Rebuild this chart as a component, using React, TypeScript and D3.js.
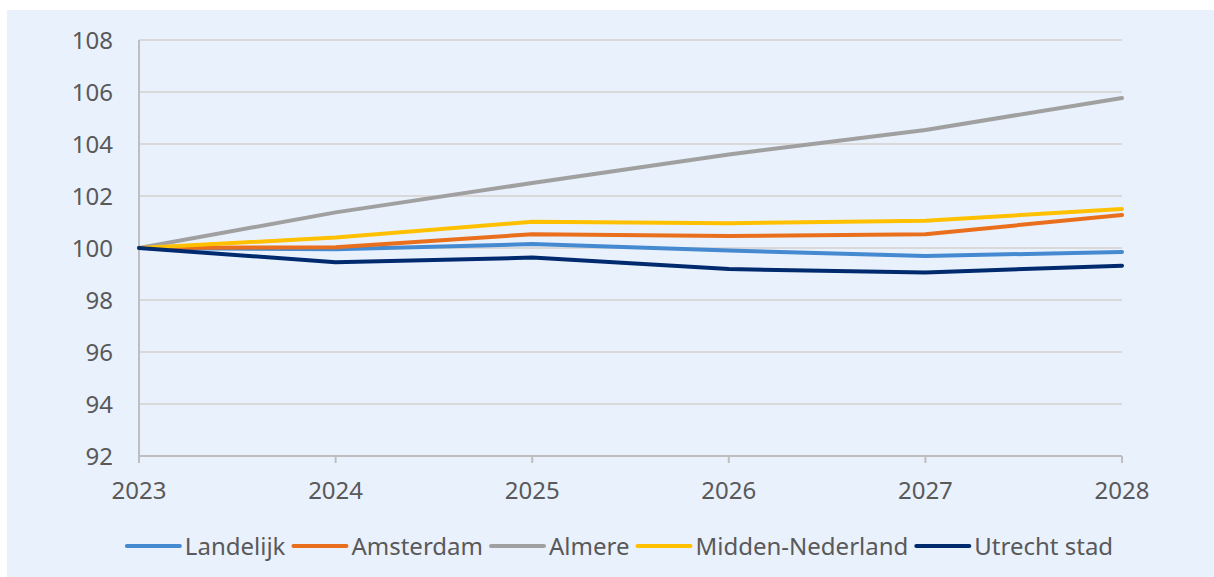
import React, { useEffect, useRef } from "react";
import * as d3 from "d3";

const years = [2023, 2024, 2025, 2026, 2027, 2028];
const yTicks = [92, 94, 96, 98, 100, 102, 104, 106, 108];

const landelijk = [100, 99.95, 100.15, 99.9, 99.69, 99.85];
const amsterdam = [100, 100.03, 100.53, 100.46, 100.53, 101.27];
const almere = [100, 101.37, 102.5, 103.6, 104.54, 105.77];
const middenNederland = [100, 100.4, 101.01, 100.95, 101.05, 101.5];
const utrechtStad = [100, 99.45, 99.63, 99.19, 99.06, 99.32];

const seriesNames = ["Landelijk", "Amsterdam", "Almere", "Midden-Nederland", "Utrecht stad"];
const seriesValues = [landelijk, amsterdam, almere, middenNederland, utrechtStad];
const seriesColors = ["#4589D0", "#E96F1C", "#A0A0A0", "#FFC000", "#002A6E"];

const W = 1214;
const H = 577;
const FONT = "'Noto Sans', sans-serif";

export default function App() {
  const ref = useRef<SVGSVGElement>(null);

  useEffect(() => {
    const svg = d3.select(ref.current);
    svg.selectAll("*").remove();

    svg.append("rect").attr("x", 7).attr("y", 10).attr("width", W - 7).attr("height", H - 10).attr("fill", "#E9F1FD");

    const x = d3.scaleLinear().domain([2023, 2028]).range([139, 1122]);
    const y = d3.scaleLinear().domain([92, 108]).range([456, 40]);

    // gridlines
    svg.append("g").selectAll("line").data(yTicks.filter((t) => t !== 92)).join("line")
      .attr("x1", x(2023)).attr("x2", x(2028))
      .attr("y1", (d) => y(d)).attr("y2", (d) => y(d))
      .attr("stroke", "#D9D9D9").attr("stroke-width", 2);

    // y axis line
    svg.append("line").attr("x1", x(2023)).attr("x2", x(2023)).attr("y1", y(108)).attr("y2", y(92) + 7)
      .attr("stroke", "#BFBFBF").attr("stroke-width", 2);
    // x axis line
    svg.append("line").attr("x1", x(2023)).attr("x2", x(2028)).attr("y1", y(92)).attr("y2", y(92))
      .attr("stroke", "#BFBFBF").attr("stroke-width", 2);
    // x ticks
    svg.append("g").selectAll("line").data(years).join("line")
      .attr("x1", (d) => x(d)).attr("x2", (d) => x(d))
      .attr("y1", y(92)).attr("y2", y(92) + 7)
      .attr("stroke", "#BFBFBF").attr("stroke-width", 2);

    // y labels
    svg.append("g").selectAll("text").data(yTicks).join("text")
      .attr("x", 113).attr("y", (d) => y(d)).attr("dy", "0.36em")
      .attr("text-anchor", "end").attr("font-family", FONT).attr("font-size", 24).attr("fill", "#595959")
      .text((d) => String(d));

    // x labels
    svg.append("g").selectAll("text").data(years).join("text")
      .attr("x", (d) => x(d)).attr("y", 490).attr("dy", "0.36em")
      .attr("text-anchor", "middle").attr("font-family", FONT).attr("font-size", 24).attr("fill", "#595959")
      .text((d) => String(d));

    // lines
    const line = d3.line<number>().x((_, i) => x(years[i])).y((d) => y(d));
    seriesValues.forEach((vals, i) => {
      svg.append("path").datum(vals).attr("d", line).attr("fill", "none")
        .attr("stroke", seriesColors[i]).attr("stroke-width", 4)
        .attr("stroke-linejoin", "round").attr("stroke-linecap", "round");
    });

    // legend
    const lg = svg.append("g");
    const lineLen = 53;
    const gapText = 5;
    const gapItem = 8;
    const widths: number[] = [];
    const items = seriesNames.map((name, i) => {
      const g = lg.append("g");
      g.append("line").attr("x1", 0).attr("x2", lineLen).attr("y1", 0).attr("y2", 0)
        .attr("stroke", seriesColors[i]).attr("stroke-width", 4).attr("stroke-linecap", "round");
      const t = g.append("text").attr("x", lineLen + gapText).attr("y", 0).attr("dy", "0.36em")
        .attr("font-family", FONT).attr("font-size", 24).attr("fill", "#595959").text(name);
      const w = (t.node() as SVGTextElement).getComputedTextLength();
      widths.push(lineLen + gapText + w);
      return g;
    });
    const total = widths.reduce((a, b) => a + b, 0) + gapItem * (widths.length - 1);
    let cx = 620 - total / 2;
    items.forEach((g, i) => {
      g.attr("transform", `translate(${cx},546)`);
      cx += widths[i] + gapItem;
    });
  }, []);

  return (
    <svg
      ref={ref}
      width={W}
      height={H}
      style={{ position: "fixed", left: 0, top: 0, background: "#fff" }}
    />
  );
}
